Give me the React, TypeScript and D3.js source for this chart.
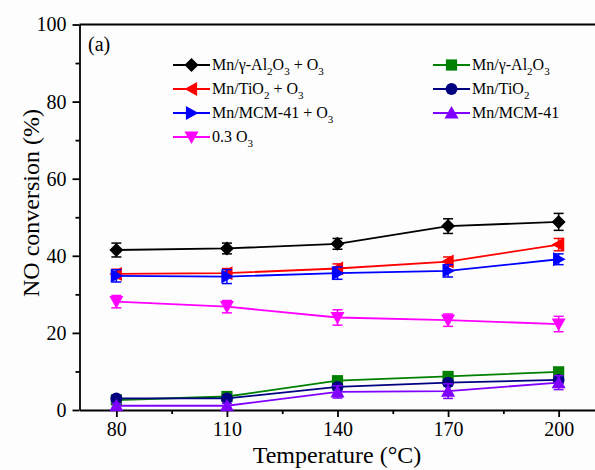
import { useEffect, useRef } from 'react';
import * as d3 from 'd3';

// Temperatures (°C)
const temps = [80, 110, 140, 170, 200];

// NO conversion (%) per series
const alO3 = [41.5, 41.9, 43.1, 47.7, 48.8];
const tiO3 = [35.3, 35.5, 36.7, 38.5, 42.9];
const mcmO3 = [34.8, 34.6, 35.5, 36.1, 39.1];
const o3Only = [28.1, 26.8, 24.0, 23.3, 22.3];
const alOnly = [2.6, 3.5, 7.6, 8.7, 9.9];
const tiOnly = [3.0, 3.0, 6.0, 7.1, 7.8];
const mcmOnly = [1.1, 1.1, 4.7, 4.9, 7.1];

// error bars (± %)
const alO3Err = [1.8, 1.4, 1.4, 1.9, 2.2];
const tiO3Err = [1.2, 1.2, 1.2, 1.2, 1.6];
const mcmO3Err = [1.6, 1.8, 1.6, 1.6, 1.4];
const o3OnlyErr = [1.6, 1.6, 2.0, 1.6, 2.0];
const alOnlyErr = [0.6, 0.6, 0.6, 0.6, 0.6];
const tiOnlyErr = [0.6, 0.6, 0.8, 0.8, 0.8];
const mcmOnlyErr = [0.6, 0.6, 1.6, 1.9, 1.8];

const yTicks = [0, 20, 40, 60, 80, 100];
const yMinor = [10, 30, 50, 70, 90];
const xMinor = [95, 125, 155, 185];

const FONT = '"Liberation Serif", "Times New Roman", serif';

type Series = {
    label: [string, string][]; // [text, 'n' normal | 's' subscript]
    values: number[];
    errs: number[];
    color: string;
    marker: string;
};

const series: Series[] = [
    { label: [['Mn/γ-Al', 'n'], ['2', 's'], ['O', 'n'], ['3', 's'], [' + O', 'n'], ['3', 's']], values: alO3, errs: alO3Err, color: '#000000', marker: 'diamond' },
    { label: [['Mn/TiO', 'n'], ['2', 's'], [' + O', 'n'], ['3', 's']], values: tiO3, errs: tiO3Err, color: '#ff0000', marker: 'left' },
    { label: [['Mn/MCM-41 + O', 'n'], ['3', 's']], values: mcmO3, errs: mcmO3Err, color: '#0000ff', marker: 'right' },
    { label: [['0.3 O', 'n'], ['3', 's']], values: o3Only, errs: o3OnlyErr, color: '#ff00ff', marker: 'down' },
    { label: [['Mn/γ-Al', 'n'], ['2', 's'], ['O', 'n'], ['3', 's']], values: alOnly, errs: alOnlyErr, color: '#008000', marker: 'square' },
    { label: [['Mn/TiO', 'n'], ['2', 's']], values: tiOnly, errs: tiOnlyErr, color: '#000080', marker: 'circle' },
    { label: [['Mn/MCM-41', 'n']], values: mcmOnly, errs: mcmOnlyErr, color: '#8000ff', marker: 'up' },
];

function markerPath(kind: string, s: number): string {
    const h = s / 2;
    switch (kind) {
        case 'diamond': return `M0,${-h}L${h},0L0,${h}L${-h},0Z`;
        case 'square': { const q = h * 0.8; return `M${-q},${-q}H${q}V${q}H${-q}Z`; }
        case 'left': return `M${-h},0L${h * 0.8},${-h}L${h * 0.8},${h}Z`;
        case 'right': return `M${h},0L${-h * 0.8},${-h}L${-h * 0.8},${h}Z`;
        case 'down': return `M0,${h}L${-h},${-h * 0.8}L${h},${-h * 0.8}Z`;
        case 'up': return `M0,${-h}L${-h},${h * 0.8}L${h},${h * 0.8}Z`;
        default: { const r = h * 0.85; return `M${r},0A${r},${r} 0 1,1 ${-r},0A${r},${r} 0 1,1 ${r},0Z`; }
    }
}

export default function App() {
    const svgRef = useRef<SVGSVGElement | null>(null);
    const width = 595;
    const height = 470;

    useEffect(() => {
        if (!svgRef.current) return;
        const svg = d3.select(svgRef.current);
        svg.selectAll('*').remove();

        const left = 79.5, top = 24.5, bottom = 410, right = 595.5;
        const x = d3.scaleLinear().domain([70, 210]).range([left, right]);
        const y = d3.scaleLinear().domain([0, 100]).range([bottom, top]);

        svg.append('rect').attr('width', width).attr('height', height).attr('fill', '#fdfdfd');

        // top frame line (right frame is cut off by the image edge)
        svg.append('line')
            .attr('x1', left).attr('x2', right).attr('y1', top).attr('y2', top)
            .attr('stroke', '#000').attr('stroke-width', 1.8);

        // y axis
        const yAx = svg.append('g').attr('transform', `translate(${left},0)`)
            .call(d3.axisLeft(y).tickValues(yTicks).tickSize(7).tickPadding(6).tickSizeOuter(0));
        yAx.selectAll('text').style('font-family', FONT).style('font-size', '20px').attr('fill', '#000');
        const yMin = svg.append('g').attr('transform', `translate(${left},0)`)
            .call(d3.axisLeft(y).tickValues(yMinor).tickSize(4).tickFormat(() => ''));
        yMin.select('.domain').remove();

        // x axis
        const xAx = svg.append('g').attr('transform', `translate(0,${bottom})`)
            .call(d3.axisBottom(x).tickValues(temps).tickSize(7).tickPadding(5).tickSizeOuter(0));
        xAx.selectAll('text').style('font-family', FONT).style('font-size', '20px').attr('fill', '#000');
        const xMin = svg.append('g').attr('transform', `translate(0,${bottom})`)
            .call(d3.axisBottom(x).tickValues(xMinor).tickSize(4).tickFormat(() => ''));
        xMin.select('.domain').remove();

        svg.selectAll('.domain, .tick line').attr('stroke', '#000').attr('stroke-width', 1.8);

        // axis titles
        svg.append('text')
            .attr('x', 337).attr('y', 463)
            .attr('text-anchor', 'middle')
            .style('font-family', FONT).style('font-size', '24px')
            .text('Temperature (°C)');
        svg.append('text')
            .attr('transform', 'translate(39,203) rotate(-90)')
            .attr('text-anchor', 'middle')
            .style('font-family', FONT).style('font-size', '24px')
            .text('NO conversion (%)');

        svg.append('text')
            .attr('x', 88).attr('y', 51)
            .style('font-family', FONT).style('font-size', '20px')
            .text('(a)');

        const line = d3.line<number>()
            .x((_, i) => x(temps[i]))
            .y(d => y(d));

        for (const s of series) {
            const g = svg.append('g');
            g.append('path')
                .datum(s.values)
                .attr('d', line)
                .attr('fill', 'none')
                .attr('stroke', s.color)
                .attr('stroke-width', 1.8);

            s.values.forEach((v, i) => {
                const cx = x(temps[i]);
                const e = s.errs[i];
                g.append('line')
                    .attr('x1', cx).attr('x2', cx).attr('y1', y(v - e)).attr('y2', y(v + e))
                    .attr('stroke', s.color).attr('stroke-width', 1.5);
                [v - e, v + e].forEach(ev => {
                    g.append('line')
                        .attr('x1', cx - 5).attr('x2', cx + 5).attr('y1', y(ev)).attr('y2', y(ev))
                        .attr('stroke', s.color).attr('stroke-width', 1.5);
                });
                g.append('path')
                    .attr('d', markerPath(s.marker, 14))
                    .attr('transform', `translate(${cx},${y(v)})`)
                    .attr('fill', s.color);
            });
        }

        // legend, two columns
        const legendCols = [
            { x0: 173, n: 4, start: 0 },
            { x0: 433, n: 3, start: 4 },
        ];
        legendCols.forEach(col => {
            for (let k = 0; k < col.n; k++) {
                const s = series[col.start + k];
                const ly = 65 + k * 24;
                const lg = svg.append('g').attr('transform', `translate(${col.x0},${ly})`);
                lg.append('line').attr('x1', 0).attr('x2', 37).attr('y1', 0).attr('y2', 0)
                    .attr('stroke', s.color).attr('stroke-width', 1.8);
                lg.append('path').attr('d', markerPath(s.marker, 14))
                    .attr('transform', 'translate(18.5,0)').attr('fill', s.color);
                const t = lg.append('text').attr('x', 39).attr('y', 5)
                    .style('font-family', FONT).style('font-size', '16px');
                let cur = 0;
                s.label.forEach(([txt, kind]) => {
                    const target = kind === 's' ? 5 : 0;
                    const ts = t.append('tspan').text(txt).attr('dy', target - cur);
                    if (kind === 's') ts.style('font-size', '11px');
                    cur = target;
                });
            }
        });
    }, []);

    return (
        <div style={{ position: 'fixed', left: 0, top: 0 }}>
            <svg ref={svgRef} width={width} height={height} style={{ display: 'block' }} />
        </div>
    );
}
